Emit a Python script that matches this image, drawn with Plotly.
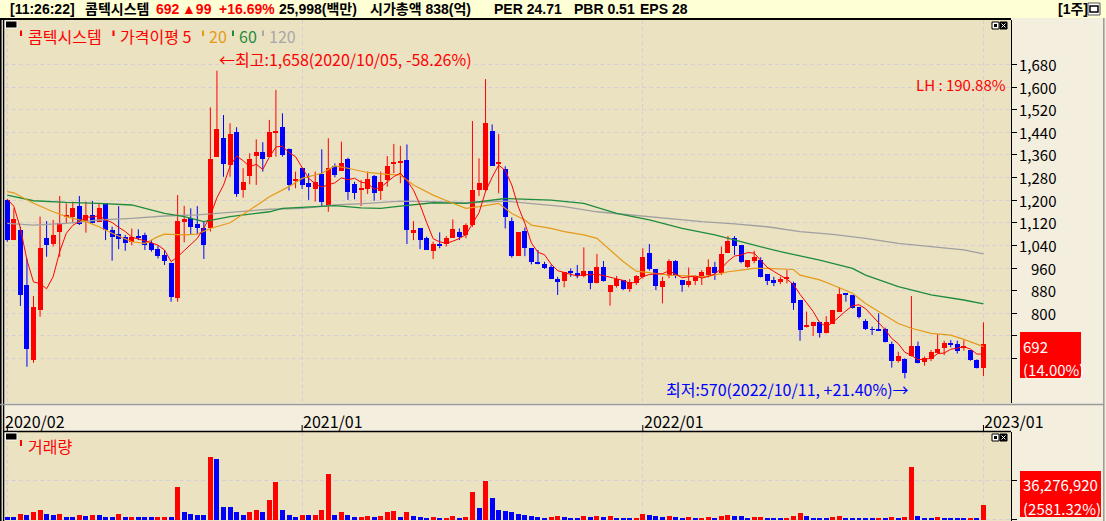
import plotly.graph_objects as go
import pandas as pd

W, H = 1106, 521

# ---------------- data (weekly candles) ----------------
start_week = "2020-02-24"
opens = [1200,1059,1094,900,635,812,1066,1045,1086,1144,
         1142,1179,1124,1148,1124,1189,1095,1079,1071,1053,
         1073,1077,1047,1027,1006,979,855,1124,1136,1116,
         1100,1100,1354,1421,1324,1440,1236,1285,1357,1369,
         1354,1440,1458,1381,1271,1313,1259,1240,1292,1181,
         1321,1304,1346,1257,1238,1240,1286,1234,1271,1330,
         1332,1342,1085,1100,1065,1021,1045,1045,1067,1086,
         1077,1112,1236,1236,1445,1330,1309,1126,1004,1091,
         1030,979,974,965,921,915,947,941,932,950,
         906,962,876,898,918,886,906,929,1015,955,
         894,932,985,918,900,914,929,935,962,941,
         1015,1065,1041,965,986,988,939,918,912,924,
         908,847,753,755,770,731,762,806,867,865,
         823,774,743,741,744,691,632,638,649,684,
         629,637,661,676,691,691,680,670,635,605]
highs = [1203,1171,1106,994,861,1142,1126,1130,1215,1189,
         1195,1215,1195,1197,1189,1189,1106,1179,1077,1100,
         1097,1085,1059,1039,1024,979,1218,1180,1171,1179,
         1124,1528,1658,1501,1472,1458,1313,1366,1415,1405,
         1484,1590,1507,1383,1301,1315,1295,1301,1380,1419,
         1330,1407,1350,1265,1271,1301,1289,1301,1356,1399,
         1392,1397,1126,1100,1071,1053,1086,1073,1132,1100,
         1118,1480,1348,1628,1468,1434,1320,1139,1086,1103,
         1030,1024,982,971,929,947,959,971,1033,950,
         1010,985,900,932,918,921,935,1030,1045,955,
         929,991,988,918,962,932,953,991,982,1036,
         1073,1073,1041,988,1021,998,939,929,929,953,
         912,847,806,770,770,790,812,892,870,865,
         823,779,753,800,749,700,664,641,861,700,
         647,670,727,703,705,703,705,670,637,768]
lows = [1053,1059,826,611,625,788,1000,1036,1000,1118,
        1118,1112,1085,1118,1124,1059,986,1027,1021,1041,
        1059,1024,1018,994,971,841,841,1051,1077,1080,
        992,1089,1354,1283,1283,1212,1209,1256,1254,1301,
        1354,1354,1354,1234,1242,1240,1201,1195,1177,1159,
        1281,1303,1201,1203,1179,1222,1198,1201,1248,1295,
        1260,1045,1059,1027,1024,992,1030,1036,1067,1059,
        1065,1106,1215,1230,1321,1224,1100,997,1004,1002,
        973,973,957,921,865,892,929,924,927,885,
        906,912,827,891,882,876,900,923,951,882,
        835,924,924,876,892,900,900,927,918,935,
        1014,1006,977,961,977,927,900,896,903,906,
        812,703,750,720,714,729,762,806,841,817,
        782,741,723,739,697,608,626,570,647,623,
        615,631,658,652,680,658,668,632,605,578]
closes = [1059,1133,865,674,823,1031,1041,1077,1118,1147,
          1171,1116,1148,1120,1171,1095,1071,1063,1047,1071,
          1065,1041,1024,1004,986,859,1126,1133,1106,1100,
          1041,1346,1452,1327,1434,1222,1263,1346,1369,1344,
          1440,1442,1360,1254,1273,1254,1245,1265,1195,1313,
          1289,1333,1230,1224,1240,1274,1224,1265,1321,1333,
          1335,1095,1095,1059,1024,1045,1041,1068,1097,1071,
          1114,1236,1260,1472,1321,1332,1140,1004,1086,1030,
          982,977,961,921,914,947,944,932,950,906,
          962,914,900,920,886,912,932,1000,955,898,
          914,985,932,900,914,929,947,962,944,1010,
          1057,1039,980,988,1000,929,915,908,923,926,
          837,741,759,770,729,768,812,868,865,820,
          786,743,741,739,700,632,650,590,684,623,
          641,664,674,696,688,668,682,635,605,692]
prev_closes = [1260, 1250, 1240, 1210]   # the four weeks before the window (for MA5)

volumes_m = [7.6,7.6,15.2,12.7,20.3,22.9,15.2,10.2,15.2,7.6,
             7.4,10.2,10.0,10.4,10.2,7.6,7.4,15.2,5.1,7.6,
             7.5,7.4,5.1,5.3,5.5,5.1,83.8,20.3,15.2,12.7,
             10.2,157.5,154.9,33.0,32.8,20.3,12.7,17.8,25.4,20.3,
             50.8,96.5,25.4,12.7,7.6,12.7,10.2,12.7,22.9,116.8,
             10.2,20.3,10.2,5.1,7.6,7.8,7.6,7.8,20.3,20.5,
             6.0,18,8,6,5,6,4,5,8,5,
             7,70,28,98,55,25,22,18,14,11,
             10,6,5,6,8,7,4,4,9,6,
             9,6,8,5,4,4,4.5,14,12,8,
             7,9,6,5,6,4,4.5,6,4,9,
             12,9,8,5,5.5,6,5,4,3.5,4,
             10,16,8,5,5,4,6,8,5,4,
             3.5,3.4,3.2,3.3,3.1,5.9,3.4,5.9,133.8,8.5,
             3.4,3.3,5.9,3.4,3.3,3.2,3.1,3.4,3.3,36.27692]

ma20_idx = [0,1,4,7,9,12,14,16,19,21,23,24,27,29,31,34,37,40,43,45,
            48,50,52,55,58,60,62,65,68,70,72,75,77,79,80,83,85,88,90,92,
            94,96,98,101,104,106,108,110,112,114,116,120,121,124,126,129,131,134,136,138,
            141,144,146,149]
ma20_val = [1230,1226,1189,1159,1142,1124,1106,1083,1053,1047,1071,1080,1077,1080,1100,1120,1165,1212,1248,1277,
            1295,1321,1313,1298,1291,1289,1254,1218,1189,1171,1177,1189,1153,1130,1112,1100,1089,1077,1065,1024,
            983,949,944,935,932,929,935,947,953,959,959,955,935,918,900,871,835,794,764,747,
            729,723,708,682]
ma60_idx = [0,4,9,14,19,24,27,30,34,40,42,45,50,54,57,60,65,70,76,83,
            88,93,98,103,108,113,118,124,129,131,136,141,146,149]
ma60_val = [1218,1198,1192,1189,1183,1153,1142,1124,1142,1159,1171,1175,1181,1173,1171,1179,1191,1189,1206,1200,
            1189,1153,1130,1100,1077,1047,1018,988,959,935,894,865,847,833]
ma120_idx = [0,4,9,14,19,24,29,34,40,45,50,55,60,65,70,76,80,85,90,96,
             101,106,111,116,121,126,131,136,141,146,149]
ma120_val = [1118,1112,1118,1130,1136,1144,1148,1156,1168,1171,1183,1189,1197,1195,1191,1197,1189,1177,1159,1145,
             1136,1124,1116,1106,1089,1079,1065,1047,1036,1024,1010]

price_ticks = [640, 720, 800, 880, 960, 1040, 1120, 1200, 1280, 1360, 1440, 1520, 1600, 1680]
price_labels = [800, 880, 960, 1040, 1120, 1200, 1280, 1360, 1440, 1520, 1600, 1680]
date_ticks = ["2020/02", "2021/01", "2022/01", "2023/01"]

# ---------------- derived ----------------
n = len(closes)
idx = list(range(n))
dates = pd.date_range(start_week, periods=n, freq="7D")
date_tick_idx = []
for lab in date_ticks:
    y_, m_ = lab.split("/")
    pos = [i for i, d in enumerate(dates) if d.year == int(y_) and d.month == int(m_)]
    date_tick_idx.append(pos[0])

ma5 = pd.Series(prev_closes + closes).rolling(5).mean().tolist()[len(prev_closes):]

RED, BLUE = "#FF0000", "#0000FF"
up = [c >= o for o, c in zip(opens, closes)]
body_base = [min(o, c) for o, c in zip(opens, closes)]
body_h = [max(abs(c - o), 3.5) for o, c in zip(opens, closes)]
body_col = [RED if u else BLUE for u in up]

vol_col = [BLUE] + [RED if volumes_m[i] > volumes_m[i - 1] else BLUE for i in range(1, n)]

def wick_xy(flag):
    xs, ys = [], []
    for i in idx:
        if up[i] == flag:
            xs += [i, i, None]
            ys += [lows[i], highs[i], None]
    return xs, ys

def PX(x):
    return x / W

def PY(y):
    return 1 - y / H

# price axis calibration (800 at y=313.3, 0.2828 px per won)
def price_at(y):
    return 800 + (313.3 - y) / 0.2828

VOL_PER_PX = 2.54  # million shares per pixel

fig = go.Figure()

for flag, col in [(True, RED), (False, BLUE)]:
    xs, ys = wick_xy(flag)
    fig.add_trace(go.Scatter(x=xs, y=ys, mode="lines", line=dict(color=col, width=1),
                             hoverinfo="skip", xaxis="x", yaxis="y"))
fig.add_trace(go.Bar(x=idx, y=body_h, base=body_base, width=0.76,
                     marker=dict(color=body_col, line=dict(width=0)),
                     xaxis="x", yaxis="y", hoverinfo="skip"))
fig.add_trace(go.Scatter(x=ma120_idx, y=ma120_val, mode="lines", line=dict(color="#A0A0A0", width=1.3),
                         xaxis="x", yaxis="y", hoverinfo="skip"))
fig.add_trace(go.Scatter(x=ma60_idx, y=ma60_val, mode="lines", line=dict(color="#1E8C3C", width=1.3),
                         xaxis="x", yaxis="y", hoverinfo="skip"))
fig.add_trace(go.Scatter(x=ma20_idx, y=ma20_val, mode="lines", line=dict(color="#E69A1A", width=1.2),
                         xaxis="x", yaxis="y", hoverinfo="skip"))
fig.add_trace(go.Scatter(x=idx, y=ma5, mode="lines", line=dict(color=RED, width=1),
                         xaxis="x", yaxis="y", hoverinfo="skip"))
fig.add_trace(go.Bar(x=idx, y=volumes_m, width=0.76,
                     marker=dict(color=vol_col, line=dict(width=0)),
                     xaxis="x2", yaxis="y2", hoverinfo="skip"))

GRID = "#D4D0D6"
xr = [-0.35, 153.2]
fig.update_layout(
    width=W, height=H, margin=dict(l=0, r=0, t=0, b=0),
    paper_bgcolor="#F4EEDF", plot_bgcolor="#EAE2C1",
    showlegend=False, barmode="overlay", bargap=0,
    xaxis=dict(domain=[PX(5), PX(1011)], range=xr, anchor="y",
               tickvals=date_tick_idx, showticklabels=False, ticks="",
               showgrid=True, gridcolor=GRID, griddash="4px,3px", gridwidth=1,
               zeroline=False, showline=False),
    yaxis=dict(domain=[PY(403), PY(20)], range=[price_at(403), price_at(20)],
               side="right", anchor="x", tickvals=price_ticks, showticklabels=False,
               ticks="outside", ticklen=5, tickcolor="black", tickwidth=1,
               showgrid=True, gridcolor=GRID, griddash="4px,3px", gridwidth=1,
               zeroline=False, showline=True, linecolor="black", linewidth=1),
    xaxis2=dict(domain=[PX(5), PX(1011)], range=xr, anchor="y2", matches="x",
                tickvals=date_tick_idx, showticklabels=False, ticks="",
                showgrid=True, gridcolor=GRID, griddash="4px,3px", gridwidth=1,
                zeroline=False, showline=False),
    yaxis2=dict(domain=[0, PY(432)], range=[-1.5 * VOL_PER_PX, 87.5 * VOL_PER_PX],
                side="right", anchor="x2", tickvals=[0, 100], showticklabels=False,
                ticks="outside", ticklen=5, tickcolor="black", tickwidth=1,
                showgrid=True, gridcolor=GRID, griddash="4px,3px", gridwidth=1,
                zeroline=False, showline=True, linecolor="black", linewidth=1),
)

shapes = []
def rect(x0, y0, x1, y1, fill, line=None, lw=0, layer="above"):
    shapes.append(dict(type="rect", xref="paper", yref="paper",
                       x0=PX(x0), x1=PX(x1), y0=PY(y1), y1=PY(y0),
                       fillcolor=fill, line=dict(color=line or fill, width=lw), layer=layer))

def hline(x0, x1, y, color, w=1):
    shapes.append(dict(type="line", xref="paper", yref="paper", x0=PX(x0), x1=PX(x1),
                       y0=PY(y), y1=PY(y), line=dict(color=color, width=w)))

def vline(x, y0, y1, color, w=1):
    shapes.append(dict(type="line", xref="paper", yref="paper", x0=PX(x), x1=PX(x),
                       y0=PY(y0), y1=PY(y1), line=dict(color=color, width=w)))

rect(0, 0, W, 18, "#FFFFD6", layer="below")
rect(0, 18, 1011, 20, "#000000")
vline(0.8, 18, 521, "#000000", 1.6)
vline(3.6, 18, 521, "#000000", 1.4)
hline(0, 1104, 404.5, "#9A9A9A", 1.5)
rect(5, 404.5, 1011, 432, "#F4EEDF", layer="below")
hline(3, 1011, 431.5, "#000000", 1.5)
vline(1103.8, 18, 521, "#9A9A9A", 1.5)
for (y0, y1) in [(21, 28), (433, 440)]:
    rect(5.5, y0, 17, y1, "#000000", "#FFFFFF", 1)
for (y0, y1) in [(22, 29), (434, 441)]:
    rect(992, y0, 999, y1, "#FFFFFF", "#000000", 1)
    rect(994, y0 + 2, 997, y1 - 2, "#000000")
    rect(1000, y0, 1007, y1, "#000000", "#000000", 1)
    shapes.append(dict(type="line", xref="paper", yref="paper", x0=PX(1001.5), x1=PX(1005.5),
                       y0=PY(y0 + 1.5), y1=PY(y1 - 1.5), line=dict(color="white", width=1)))
    shapes.append(dict(type="line", xref="paper", yref="paper", x0=PX(1001.5), x1=PX(1005.5),
                       y0=PY(y1 - 1.5), y1=PY(y0 + 1.5), line=dict(color="white", width=1)))
rect(1088, 3, 1100, 15, "#FFFFFF", "#555555", 1)
rect(1090, 6, 1098, 12, "#FFFFFF", "#000000", 1.5)
for x0, col in [(20, RED), (112.5, RED), (202, "#E69A1A"), (232, "#1E8C3C"), (262, "#A8A8A8")]:
    rect(x0, 30.5, x0 + 2, 36, col)
rect(20, 440, 22, 446, RED)
for ti in date_tick_idx:
    shapes.append(dict(type="line", xref="x", yref="paper", x0=ti, x1=ti,
                       y0=PY(425), y1=PY(431), line=dict(color="#000000", width=1)))
rect(1020, 332, 1081, 378, RED)
rect(1020, 471, 1101, 517, RED)
fig.update_layout(shapes=shapes)

KR = "Noto Sans CJK KR, Noto Sans, sans-serif"
BAR = "Liberation Sans, Noto Sans CJK KR, sans-serif"
ann = []
def text(x, y, s, color="black", size=15, anchor="left", family=KR, bold=False, xref="paper", xshift=0):
    if bold:
        s = "<b>" + s + "</b>"
    ann.append(dict(x=(PX(x) if xref == "paper" else x), y=PY(y), xref=xref, yref="paper",
                    text=s, showarrow=False, xanchor=anchor, yanchor="middle", xshift=xshift,
                    font=dict(family=family, size=size, color=color)))

top_items = [(8, "[11:26:22]", "black"), (83, "콤텍시스템", "black"), (154, "692", RED),
             (180, "▲99", RED), (217, "+16.69%", RED), (277, "25,998(백만)", "black"),
             (368, "시가총액 838(억)", "black"), (492, "PER 24.71", "black"),
             (572, "PBR 0.51", "black"), (638, "EPS 28", "black"), (1056, "[1주]", "black")]
for x, s, c in top_items:
    text(x, 9.5, s, c, 14, family=BAR, bold=True)

text(26, 35.5, "콤텍시스템", RED, 16)
text(117.5, 35.5, "가격이평 5", RED, 16)
text(206.5, 35.5, "20", "#E69A1A", 16)
text(236.5, 35.5, "60", "#1E8C3C", 16)
text(266.5, 35.5, "120", "#A8A8A8", 16)
text(26, 446, "거래량", RED, 16)

text(217, 59.5, "←최고:1,658(2020/10/05, -58.26%)", RED, 16)
text(664, 389, "최저:570(2022/10/11, +21.40%)→", BLUE, 16)
text(1008, 84, "LH : 190.88%", RED, 15, anchor="right")

for v in price_labels:
    ann.append(dict(x=PX(1058), y=v, xref="paper", yref="y", text=f"{v:,}", showarrow=False,
                    xanchor="right", yanchor="middle",
                    font=dict(family=KR, size=15, color="black")))

for k, (ti, lab) in enumerate(zip(date_tick_idx, date_ticks)):
    if k == 0:
        text(3, 420.5, lab, "black", 16)
    else:
        text(ti, 420.5, lab, "black", 16, xref="x", xshift=-1)

text(1021, 346, "692", "white", 15)
text(1021, 369, "(14.00%)", "white", 15)
text(1021, 484, "36,276,920", "white", 15)
text(1021, 508.5, "(2581.32%)", "white", 15)

fig.update_layout(annotations=ann)
fig.write_html("out.html", config={"displayModeBar": False}, post_script=(
    "document.body.style.margin='0px';document.body.style.padding='0px';"
    "document.body.style.overflow='hidden';document.documentElement.style.overflow='hidden';"))
